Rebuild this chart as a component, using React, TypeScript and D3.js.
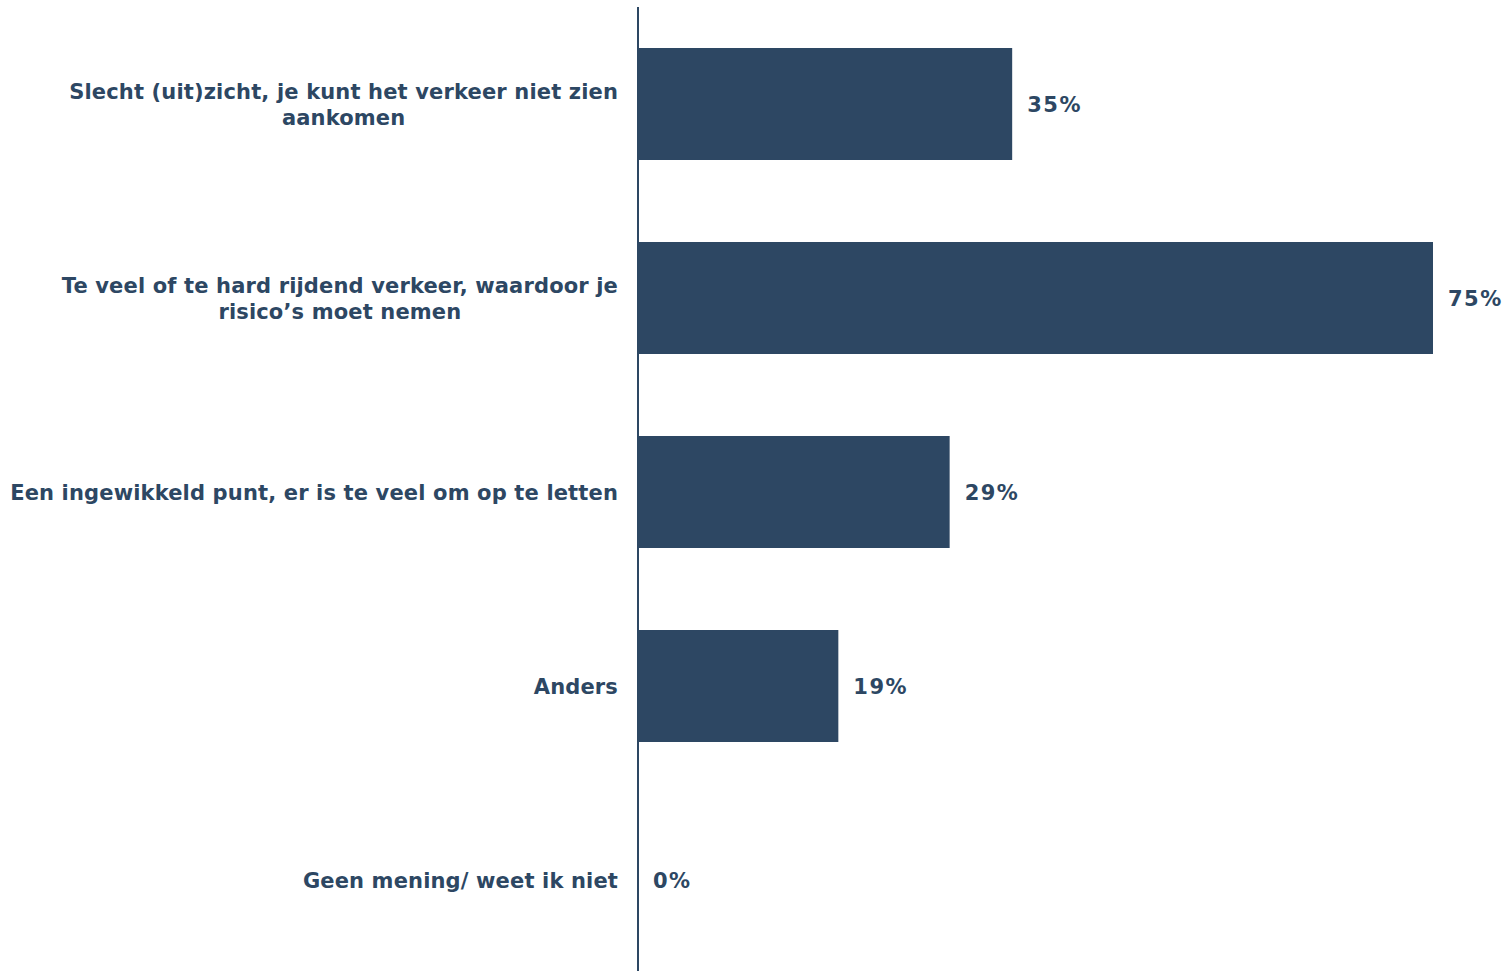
import React, { useEffect, useRef } from "react";
import * as d3 from "d3";

const categories: string[][] = [
  ["Slecht (uit)zicht, je kunt het verkeer niet zien", "aankomen"],
  ["Te veel of te hard rijdend verkeer, waardoor je", "risico’s moet nemen"],
  ["Een ingewikkeld punt, er is te veel om op te letten"],
  ["Anders"],
  ["Geen mening/ weet ik niet"],
];
const values: number[] = [0.353, 0.75, 0.294, 0.189, 0];
const valueLabels: string[] = ["35%", "75%", "29%", "19%", "0%"];

const W = 1511;
const H = 971;
const COLOR = "#2D4763";
const FONT = "'DejaVu Sans', Verdana, sans-serif";
const FS = 21;

export default function App() {
  const ref = useRef<SVGSVGElement>(null);
  useEffect(() => {
    const svg = d3.select(ref.current);
    svg.selectAll("*").remove();
    const x0 = 638;
    const x = d3.scaleLinear().domain([0, 0.75]).range([x0, 1433]);
    const ids = categories.map((_, i) => String(i));
    const y = d3
      .scaleBand<string>()
      .domain(ids)
      .range([7, 977])
      .paddingInner(0.4227)
      .paddingOuter(0.21135);

    svg
      .selectAll("rect.bar")
      .data(values)
      .join("rect")
      .attr("class", "bar")
      .attr("x", x0)
      .attr("y", (_, i) => y(ids[i])!)
      .attr("width", (d) => x(d) - x0)
      .attr("height", y.bandwidth())
      .attr("fill", COLOR);

    svg
      .append("line")
      .attr("x1", x0)
      .attr("x2", x0)
      .attr("y1", 7)
      .attr("y2", H)
      .attr("stroke", COLOR)
      .attr("stroke-width", 2);

    svg
      .selectAll("text.val")
      .data(values)
      .join("text")
      .attr("class", "val")
      .attr("x", (d) => x(d) + 15)
      .attr("y", (_, i) => y(ids[i])! + y.bandwidth() / 2)
      .attr("dy", "0.4em")
      .attr("fill", COLOR)
      .attr("font-family", FONT)
      .attr("font-weight", "bold")
      .attr("font-size", FS)
      .attr("letter-spacing", 1.5)
      .text((_, i) => valueLabels[i]);

    const right = 618;
    const lh = 26;
    categories.forEach((lines, i) => {
      const cy = y(ids[i])! + y.bandwidth() / 2;
      const g = svg.append("g");
      const texts = lines.map((ln, j) =>
        g
          .append("text")
          .attr("y", cy + (j - (lines.length - 1) / 2) * lh)
          .attr("dy", "0.38em")
          .attr("fill", COLOR)
          .attr("font-family", FONT)
          .attr("font-weight", "bold")
          .attr("font-size", FS)
          .attr("letter-spacing", 0.15)
          .attr("text-anchor", "middle")
          .text(ln)
      );
      const widths = texts.map((t) => (t.node() as SVGTextElement).getComputedTextLength());
      const maxW = d3.max(widths) || 0;
      texts.forEach((t) => t.attr("x", right - maxW / 2));
    });
  }, []);
  return (
    <svg ref={ref} width={W} height={H} style={{ display: "block", position: "absolute", left: 0, top: 0 }} />
  );
}
